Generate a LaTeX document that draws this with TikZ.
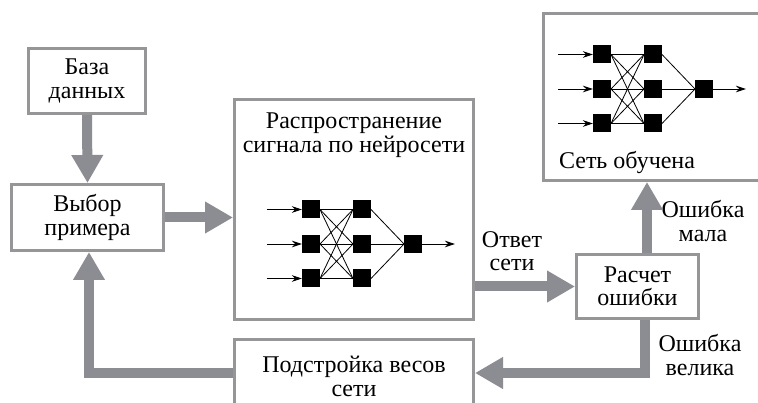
\documentclass[tikz,border=0pt]{standalone}
\usepackage{fontspec}
\setmainfont{Liberation Serif}
\newfontfamily\lserif{Liberation Serif}
\usetikzlibrary{arrows.meta}
\definecolor{boxgray}{RGB}{150,150,153}
\definecolor{arrgray}{RGB}{140,141,146}
\newcommand\drawnet[1]{%
  \foreach \i/\r in {1/-34.5,2/0,3/34.5} {
    \node[neuron] (#1a\i) at (0,\r) {};
    \node[neuron] (#1b\i) at (51,\r) {};
    \coordinate (#1in\i) at (-44,\r);
  }
  \node[neuron] (#1o) at (102,0) {};
  \coordinate (#1out) at (144,0);
  \foreach \i in {1,2,3} {
    \foreach \j in {1,2,3} {
      \draw[wire] (#1a\i.east) -- (#1b\j.west);
    }
    \draw[wire] (#1b\i.east) -- (#1o.west);
    \draw[inarr] (#1in\i) -- (#1a\i.west);
  }
  \draw[inarr] (#1o.east) -- (#1out);
}
\begin{document}
\begin{tikzpicture}[x=1pt,y=-1pt,
  txt/.style={align=center, font=\lserif\fontsize{24}{23.5}\selectfont},
  box/.style={txt, draw=boxgray, line width=3pt, fill=white, inner sep=0pt},
  fat/.style={draw=arrgray, line width=10pt, line join=miter, -{Triangle[width=30pt,length=28pt]}},
  neuron/.style={fill=black, minimum size=18pt, inner sep=0pt, outer sep=0pt},
  wire/.style={line width=0.8pt},
  inarr/.style={line width=0.9pt, -{Stealth[length=10pt,width=6.5pt]}}]
\clip (0,0) rectangle (758,403);
\fill[white] (0,0) rectangle (758,403);
% boxes
\node[box, minimum width=117pt, minimum height=65pt] (db) at (87,81) {База\\данных};
\node[box, minimum width=152pt, minimum height=66pt] (sel) at (87.5,217.5) {Выбор\\примера};
\node[box, minimum width=239pt, minimum height=220pt] (prop) at (354,209.5) {};
\node[txt] (proptxt) at (354,135) {Распространение\\сигнала по нейросети};
\node[box, minimum width=225pt, minimum height=167pt] (done) at (656,97) {};
\node[txt] (donetxt) at (627,163) {Сеть обучена};
\node[box, minimum width=122pt, minimum height=64pt] (err) at (637.5,286.5) {Расчет\\ошибки};
\node[box, minimum width=239pt, minimum height=74pt] (adj) at (354,376.5) {Подстройка весов\\сети};
% networks
\begin{scope}[shift={(311,244)}]
  \drawnet{p}
\end{scope}
\begin{scope}[shift={(602,89)}]
  \drawnet{d}
\end{scope}
% labels
\node[txt] (ans) at (512,251) {Ответ\\сети};
\node[txt] (small) at (703,221) {Ошибка\\мала};
\node[txt] (big) at (700,355) {Ошибка\\велика};
% fat arrows
\coordinate (upx) at (647,0);
\coordinate (bend1) at (645,373);
\coordinate (bend2) at (89,373);
\draw[fat] (db.south) -- (sel.north);
\draw[fat] (sel.east) -- (prop.west |- sel.east);
\draw[fat] (prop.east |- err.west) -- (err.west);
\draw[fat] (err.north -| upx) -- (done.south -| upx);
\draw[fat] (err.south -| bend1) |- (adj.east |- bend1);
\draw[fat] (adj.west |- bend2) -| (sel.south -| bend2);
\end{tikzpicture}
\end{document}
